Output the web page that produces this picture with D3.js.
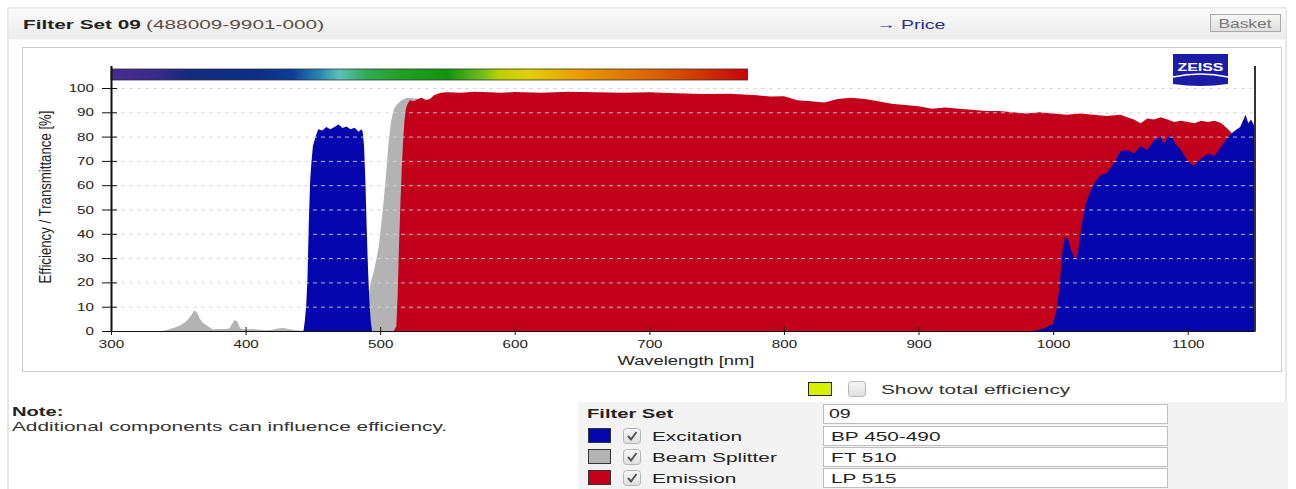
<!DOCTYPE html>
<html>
<head>
<meta charset="utf-8">
<script src="https://cdnjs.cloudflare.com/ajax/libs/d3/7.8.5/d3.min.js"></script>
<style>
  body { margin: 0; background: #fff; }
  svg text { font-family: "Liberation Sans", Arial, sans-serif; }
</style>
</head>
<body>
<div id="chart"></div>
<script>
// axis ticks
var xTicks = [300, 400, 500, 600, 700, 800, 900, 1000, 1100]
var yTicks = [0, 10, 20, 30, 40, 50, 60, 70, 80, 90, 100]

// [wavelength nm, transmittance %]
var beamSplitter = [[300,0],[338,0],[342,0.5],[348,1.5],[352,2.5],[356,4],[359,6],[362,8.5],[364,7.5],[366,5],[368,3.5],[372,2],[376,0.6],
  [380,0.8],[385,0.8],[388,1],[390,3],[392,4.5],[394,3.8],[396,1],[400,0.6],[405,0.8],[410,0.5],[415,0.3],[420,0.5],[424,1],
  [428,1.2],[432,0.8],[436,0.4],[440,0.2],[445,0],[489,0],[490,3],[491,10],[492,16],[493,20],[495,24],[497,29],[499,35],[500,40],
  [502,50],[504,62],[506,76],[508,86],[510,91],[512,93],[514,94],[516,95],[520,96],[540,95],[600,94],[800,93],[900,89],[1000,85],[1150,78]]

var excitation = [[300,0],[443,0],[444,4],[445,10],[446,22],[447,45],[448,62],[449,70],[450,76],[452,80],[454,83],[457,82.5],[460,84],
  [463,83],[466,84],[469,85],[472,83.5],[475,84.2],[478,83],[481,83.6],[484,82],[486,83],[487,82],[488,76],[489,62],[490,42],
  [491,25],[492,12],[493,4],[494,0],[985,0],[990,0.5],[995,1.5],[1000,3],[1003,10],[1005,20],[1007,33],[1009,39],[1011,38],
  [1013,34],[1016,30],[1018,30.5],[1021,43],[1024,52],[1026,55],[1028,58],[1032,62],[1035,64],[1040,65],[1045,69],[1050,74],
  [1055,74.5],[1060,73],[1065,76],[1070,74.5],[1075,78.5],[1080,80],[1082,77],[1087,81],[1091,77],[1095,74.5],[1100,70],
  [1104,68],[1110,71],[1115,73],[1120,72],[1125,76],[1130,80],[1134,82],[1139,84],[1143,89],[1145,85.5],[1147,87],[1150,84]]

var emission = [[300,0],[510,0],[512,2],[513,15],[514,35],[515,52],[516,66],[517,78],[518,86],[519,91],[520,93],[522,95],[525,94.5],
  [528,95.5],[531,96],[534,95],[537,95.5],[540,97],[545,98],[550,98.2],[560,98],[570,98.5],[580,98.3],[590,98],[600,98.4],
  [620,98],[640,98.5],[660,98.3],[680,98],[700,98.2],[720,97.8],[740,97.5],[760,97.6],[780,97],[790,96.5],[800,96.6],[810,95],
  [820,94.5],[830,94],[840,95.5],[850,96],[860,95.5],[870,94.5],[880,93.5],[890,93],[900,92.5],[910,91.5],[920,92],[930,91.5],
  [940,91],[950,90.5],[960,90.5],[970,90],[980,89.5],[990,90],[1000,89.5],[1010,89],[1020,89.5],[1030,89],[1040,88.5],[1050,89],
  [1055,88],[1060,87],[1065,85.5],[1070,87.5],[1075,87],[1080,88],[1085,87],[1090,86],[1095,86.5],[1100,86],[1105,85.5],
  [1110,86.5],[1115,86],[1120,86.5],[1125,85.5],[1130,83],[1135,80],[1140,80],[1150,79]]

// spectrum bar colours
var spectrumStops = [[300,'#4a2a8e'],[330,'#3b2a8a'],[360,'#122a7e'],[410,'#0b2f88'],[435,'#0b3e98'],[455,'#2a86ae'],[470,'#5cc0b6'],
  [490,'#31aa52'],[515,'#22a024'],[550,'#0f960f'],[575,'#6cbc16'],[588,'#b8d000'],[610,'#e4d000'],[640,'#eaa400'],[670,'#e48400'],
  [710,'#da5a00'],[740,'#d03400'],[773,'#c8000e']]

var series = [
  {name: 'Beam Splitter', filter: 'FT 510', color: '#b3b3b3', data: beamSplitter},
  {name: 'Emission', filter: 'LP 515', color: '#c2001b', data: emission},
  {name: 'Excitation', filter: 'BP 450-490', color: '#0505ad', data: excitation}
]
var legendOrder = ['Excitation', 'Beam Splitter', 'Emission']

var width = 1296, height = 489

var svg = d3.select('#chart')
  .append('svg')
  .attr('width', width)
  .attr('height', height)

// stretch text like the screenshot does
function stretch(sel, k) {
  sel.each(function() {
    var w = this.getComputedTextLength()
    d3.select(this).attr('textLength', w * k).attr('lengthAdjust', 'spacingAndGlyphs')
  })
}

var defs = svg.append('defs')
var hg = defs.append('linearGradient').attr('id', 'hdr').attr('x1', 0).attr('x2', 0).attr('y1', 0).attr('y2', 1)
hg.append('stop').attr('offset', 0).attr('stop-color', '#fbfbfb')
hg.append('stop').attr('offset', 1).attr('stop-color', '#ebebeb')
var bg = defs.append('linearGradient').attr('id', 'btn').attr('x1', 0).attr('x2', 0).attr('y1', 0).attr('y2', 1)
bg.append('stop').attr('offset', 0).attr('stop-color', '#f7f7f7')
bg.append('stop').attr('offset', 1).attr('stop-color', '#dedede')

// page frame + header
svg.append('rect').attr('x', 8).attr('y', 8).attr('width', 1278).attr('height', 500)
  .attr('fill', '#fff').attr('stroke', '#d0d0d0')
svg.append('rect').attr('x', 8.5).attr('y', 8.5).attr('width', 1277).attr('height', 31).attr('fill', 'url(#hdr)')

var t1 = svg.append('text').attr('x', 23).attr('y', 28.5).attr('font-size', 13).attr('font-weight', 'bold')
  .attr('fill', '#222').text('Filter Set 09')
stretch(t1, 1.6)
var t2 = svg.append('text').attr('x', 146).attr('y', 28.5).attr('font-size', 13)
  .attr('fill', '#5c4c44').text('(488009-9901-000)')
stretch(t2, 1.6)
var t3 = svg.append('text').attr('x', 876).attr('y', 29).attr('font-size', 13)
  .attr('fill', '#24308e').text('\u2192 Price')
stretch(t3, 1.5)

svg.append('rect').attr('x', 1210.5).attr('y', 14.5).attr('width', 70).attr('height', 17)
  .attr('fill', 'url(#btn)').attr('stroke', '#a8a8a8')
var t4 = svg.append('text').attr('x', 1245).attr('y', 27.5).attr('text-anchor', 'middle').attr('font-size', 12)
  .attr('fill', '#777').text('Basket')
stretch(t4, 1.45)

// chart box
svg.append('rect').attr('x', 22.5).attr('y', 47.5).attr('width', 1259).attr('height', 324)
  .attr('fill', '#fff').attr('stroke', '#cacaca')

var x = d3.scaleLinear().domain([300, 1150]).range([111, 1255])
var y = d3.scaleLinear().domain([0, 100]).range([331, 88])

var area = d3.area()
  .x(function(d) { return x(d[0]) })
  .y0(y(0))
  .y1(function(d) { return y(d[1]) })

svg.append('g').selectAll('path')
  .data(series)
  .enter().append('path')
  .attr('d', function(d) { return area(d.data) })
  .attr('fill', function(d) { return d.color })

// dashed grid over the fills
svg.append('g').selectAll('line')
  .data(yTicks.slice(1))
  .enter().append('line')
  .attr('x1', 113).attr('x2', 1254)
  .attr('y1', function(d) { return y(d) + 0.5 })
  .attr('y2', function(d) { return y(d) + 0.5 })
  .attr('stroke', '#d4d4d4')
  .attr('stroke-opacity', 0.85)
  .attr('stroke-dasharray', '4,4')

// spectrum bar
var sg = defs.append('linearGradient').attr('id', 'spec')
sg.selectAll('stop').data(spectrumStops).enter().append('stop')
  .attr('offset', function(d) { return (d[0] - 300) / (773 - 300) })
  .attr('stop-color', function(d) { return d[1] })
svg.append('rect').attr('x', x(300)).attr('y', 69).attr('width', x(773) - x(300)).attr('height', 11)
  .attr('fill', 'url(#spec)').attr('stroke', '#333').attr('stroke-width', 0.8)

// axes
var xAxis = svg.append('g')
  .attr('transform', 'translate(0,' + y(0) + ')')
  .call(d3.axisBottom(x).tickValues(xTicks).tickFormat(d3.format('d')).tickSize(4).tickSizeOuter(0))
xAxis.select('.domain').attr('stroke', '#111')
xAxis.selectAll('.tick line').attr('y1', -4).attr('stroke', '#111')
xAxis.selectAll('.tick text').attr('y', 9).attr('font-family', '"DejaVu Sans", Verdana, sans-serif')
  .attr('font-size', 11).attr('fill', '#222')
stretch(xAxis.selectAll('.tick text'), 1.38)

var yAxis = svg.append('g')
  .attr('transform', 'translate(' + x(300) + ',0)')
  .call(d3.axisLeft(y).tickValues(yTicks).tickSize(9).tickSizeOuter(0))
yAxis.select('.domain').attr('d', 'M0.5,' + y(0) + 'V66').attr('stroke', '#111').attr('stroke-width', 2)
yAxis.selectAll('.tick line').attr('x2', 6).attr('x1', -9).attr('stroke', '#111')
yAxis.selectAll('.tick text').attr('x', -17).attr('font-family', '"DejaVu Sans", Verdana, sans-serif')
  .attr('font-size', 11).attr('fill', '#222')
stretch(yAxis.selectAll('.tick text'), 1.38)

svg.append('line').attr('x1', x(1150)).attr('x2', x(1150)).attr('y1', 66).attr('y2', y(0))
  .attr('stroke', '#333').attr('stroke-width', 2)

var xt = svg.append('text').attr('x', (x(300) + x(1150)) / 2 + 3).attr('y', 365).attr('text-anchor', 'middle')
  .attr('font-family', '"DejaVu Sans", Verdana, sans-serif').attr('font-size', 13).attr('fill', '#222')
  .text('Wavelength [nm]')
stretch(xt, 1.41)

svg.append('text').attr('transform', 'translate(51,197) scale(1.3,1) rotate(-90)').attr('text-anchor', 'middle')
  .attr('font-size', 13).attr('fill', '#222').attr('textLength', 173).attr('lengthAdjust', 'spacingAndGlyphs')
  .text('Efficiency / Transmittance [%]')

// zeiss logo
svg.append('path').attr('d', 'M1173,54H1228V84Q1200.5,88 1173,84Z').attr('fill', '#1b1ba6')
svg.append('path').attr('d', 'M1173,77Q1200.5,71 1228,77').attr('fill', 'none').attr('stroke', '#fff').attr('stroke-width', 1.5)
svg.append('text').attr('x', 1200.5).attr('y', 71).attr('text-anchor', 'middle')
  .attr('font-family', '"Liberation Serif", serif').attr('font-weight', 'bold').attr('font-size', 11)
  .attr('fill', '#fff').attr('textLength', 46).attr('lengthAdjust', 'spacingAndGlyphs').text('ZEISS')

// checkbox helper
function checkbox(cx, cy, checked) {
  var g = svg.append('g').attr('transform', 'translate(' + cx + ',' + cy + ')')
  g.append('rect').attr('x', -8.5).attr('y', -7.5).attr('width', 17).attr('height', 15).attr('rx', 3)
    .attr('fill', 'url(#btn)').attr('stroke', '#b5b5b5')
  if (checked) {
    g.append('path').attr('d', 'M-4,0L-1,3.5L4.5,-4').attr('fill', 'none').attr('stroke', '#555').attr('stroke-width', 2)
  }
}

// notes
var n1 = svg.append('text').attr('x', 12).attr('y', 416).attr('font-size', 13).attr('font-weight', 'bold')
  .attr('fill', '#222').text('Note:')
stretch(n1, 1.55)
var n2 = svg.append('text').attr('x', 12).attr('y', 430.5).attr('font-size', 13)
  .attr('fill', '#333').text('Additional components can influence efficiency.')
stretch(n2, 1.6)

// total efficiency toggle
svg.append('rect').attr('x', 808.5).attr('y', 382.5).attr('width', 23).attr('height', 13)
  .attr('fill', '#d6f000').attr('stroke', '#222')
checkbox(857, 389, false)
var s1 = svg.append('text').attr('x', 881).attr('y', 393.5).attr('font-size', 13).attr('fill', '#333')
  .text('Show total efficiency')
stretch(s1, 1.6)

// filter set table
svg.append('rect').attr('x', 578).attr('y', 402).attr('width', 710).attr('height', 87).attr('fill', '#f3f3f3')
var f1 = svg.append('text').attr('x', 587).attr('y', 418).attr('font-size', 13).attr('font-weight', 'bold')
  .attr('fill', '#222').text('Filter Set')
stretch(f1, 1.55)
svg.append('rect').attr('x', 823.5).attr('y', 404.5).attr('width', 344).attr('height', 19)
  .attr('fill', '#fff').attr('stroke', '#bdbdbd')
var f2 = svg.append('text').attr('x', 829).attr('y', 418).attr('font-size', 13).attr('fill', '#222').text('09')
stretch(f2, 1.5)

var rows = svg.append('g').selectAll('g')
  .data(legendOrder.map(function(n) { return series.filter(function(s) { return s.name == n })[0] }))
  .enter().append('g')
  .attr('transform', function(d, i) { return 'translate(0,' + (436 + i * 21) + ')' })

rows.append('rect').attr('x', 588.5).attr('y', -7.5).attr('width', 22).attr('height', 14)
  .attr('fill', function(d) { return d.color }).attr('stroke', '#333')
rows.append('rect').attr('x', 823.5).attr('y', -9.5).attr('width', 344).attr('height', 19)
  .attr('fill', '#fff').attr('stroke', '#bdbdbd')
rows.append('text').attr('x', 652).attr('y', 4.5).attr('font-size', 13).attr('fill', '#222')
  .text(function(d) { return d.name })
rows.append('text').attr('x', 831).attr('y', 4.5).attr('font-size', 13).attr('fill', '#222')
  .text(function(d) { return d.filter })
stretch(rows.selectAll('text'), 1.6)
legendOrder.forEach(function(n, i) { checkbox(632, 436 + i * 21, true) })
</script>
</body>
</html>
